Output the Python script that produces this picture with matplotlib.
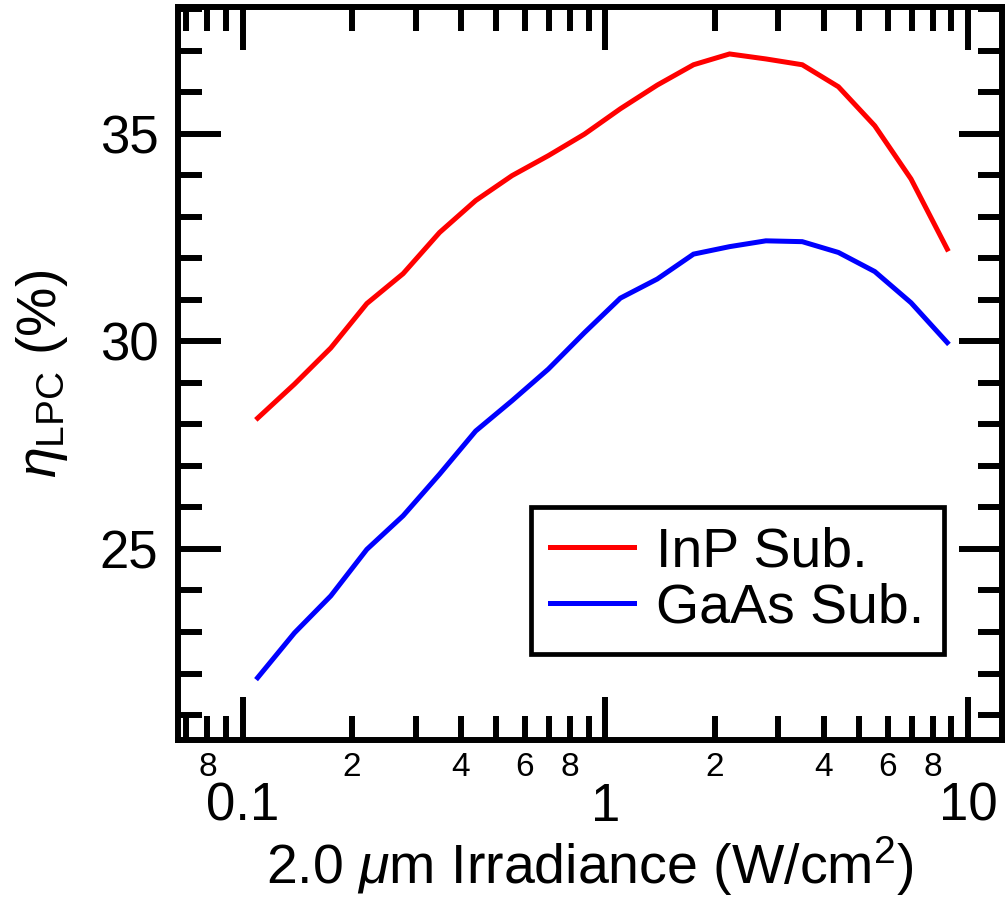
import matplotlib
matplotlib.use("Agg")
import matplotlib.pyplot as plt
from matplotlib import ticker
import numpy as np

plt.rcParams["font.family"] = ["Liberation Sans", "DejaVu Sans"]
plt.rcParams["mathtext.fontset"] = "custom"
plt.rcParams["mathtext.rm"] = "Liberation Sans"
plt.rcParams["mathtext.it"] = "Liberation Sans:italic"

# irradiancia (W/cm^2) y eficiencia (%)
irradiancia = [0.110, 0.139, 0.175, 0.220, 0.277, 0.349, 0.439, 0.553, 0.696, 0.876,
               1.10, 1.39, 1.75, 2.20, 2.77, 3.49, 4.39, 5.53, 6.96, 8.76]
eta_inp = [28.15, 28.97, 29.84, 30.91, 31.63, 32.62, 33.39, 33.99, 34.47, 34.99,
           35.60, 36.17, 36.66, 36.92, 36.80, 36.66, 36.13, 35.19, 33.91, 32.22]
eta_gaas = [21.90, 22.98, 23.87, 24.99, 25.80, 26.80, 27.84, 28.57, 29.33, 30.21,
            31.04, 31.50, 32.10, 32.28, 32.42, 32.40, 32.14, 31.68, 30.93, 29.97]
etiquetas = ["InP Sub.", "GaAs Sub."]
colores = ["#ff0000", "#0000ff"]

fig = plt.figure(figsize=(10.05, 9.01), dpi=100)
ax = fig.add_axes([0.177, 0.1787, 0.820, 0.8135])

for y, lab, c in zip([eta_inp, eta_gaas], etiquetas, colores):
    ax.plot(irradiancia, y, color=c, lw=3.6, label=lab, solid_joinstyle="miter")

ax.set_xscale("log")
ax.set_xlim(0.0663, 12.4)
ax.set_ylim(20.4, 38.05)

ax.xaxis.set_major_locator(ticker.LogLocator(base=10, numticks=10))
ax.xaxis.set_major_formatter(ticker.FuncFormatter(lambda v, p: f"{v:g}"))
ax.xaxis.set_minor_locator(ticker.LogLocator(base=10, subs=np.arange(2, 10), numticks=20))


def etiqueta_menor(v, p):
    # solo se rotulan los menores pares (2, 4, 6, 8)
    d = int(round(v / 10 ** np.floor(np.log10(v) + 1e-9)))
    return str(d) if d % 2 == 0 else ""


ax.xaxis.set_minor_formatter(ticker.FuncFormatter(etiqueta_menor))
ax.yaxis.set_major_locator(ticker.MultipleLocator(5))
ax.yaxis.set_minor_locator(ticker.MultipleLocator(1))

for s in ax.spines.values():
    s.set_linewidth(4.3)
ax.tick_params(which="both", direction="in", top=True, right=True, width=4.3)
ax.tick_params(which="major", length=31)
ax.tick_params(which="minor", length=17)
ax.tick_params(axis="x", which="major", labelsize=38, pad=30)
ax.tick_params(axis="x", which="minor", labelsize=24, pad=9)
ax.tick_params(axis="y", which="major", labelsize=38, pad=14)

ax.set_xlabel(r"2.0 $\mu$m Irradiance (W/cm$^2$)", fontsize=40, labelpad=2)
ax.set_ylabel(r"$\eta_{\mathrm{LPC}}$ (%)", fontsize=40)
ax.yaxis.set_label_coords(-0.131, 0.5)

leg = ax.legend(loc="upper right", bbox_to_anchor=(0.9296, 0.318), borderaxespad=0,
                fontsize=40, handlelength=1.51, handletextpad=0.4, labelspacing=0.07,
                borderpad=0.35, fancybox=False, framealpha=1, edgecolor="black")
leg.get_frame().set_linewidth(3.4)

fig.savefig("out.png", dpi=100)
